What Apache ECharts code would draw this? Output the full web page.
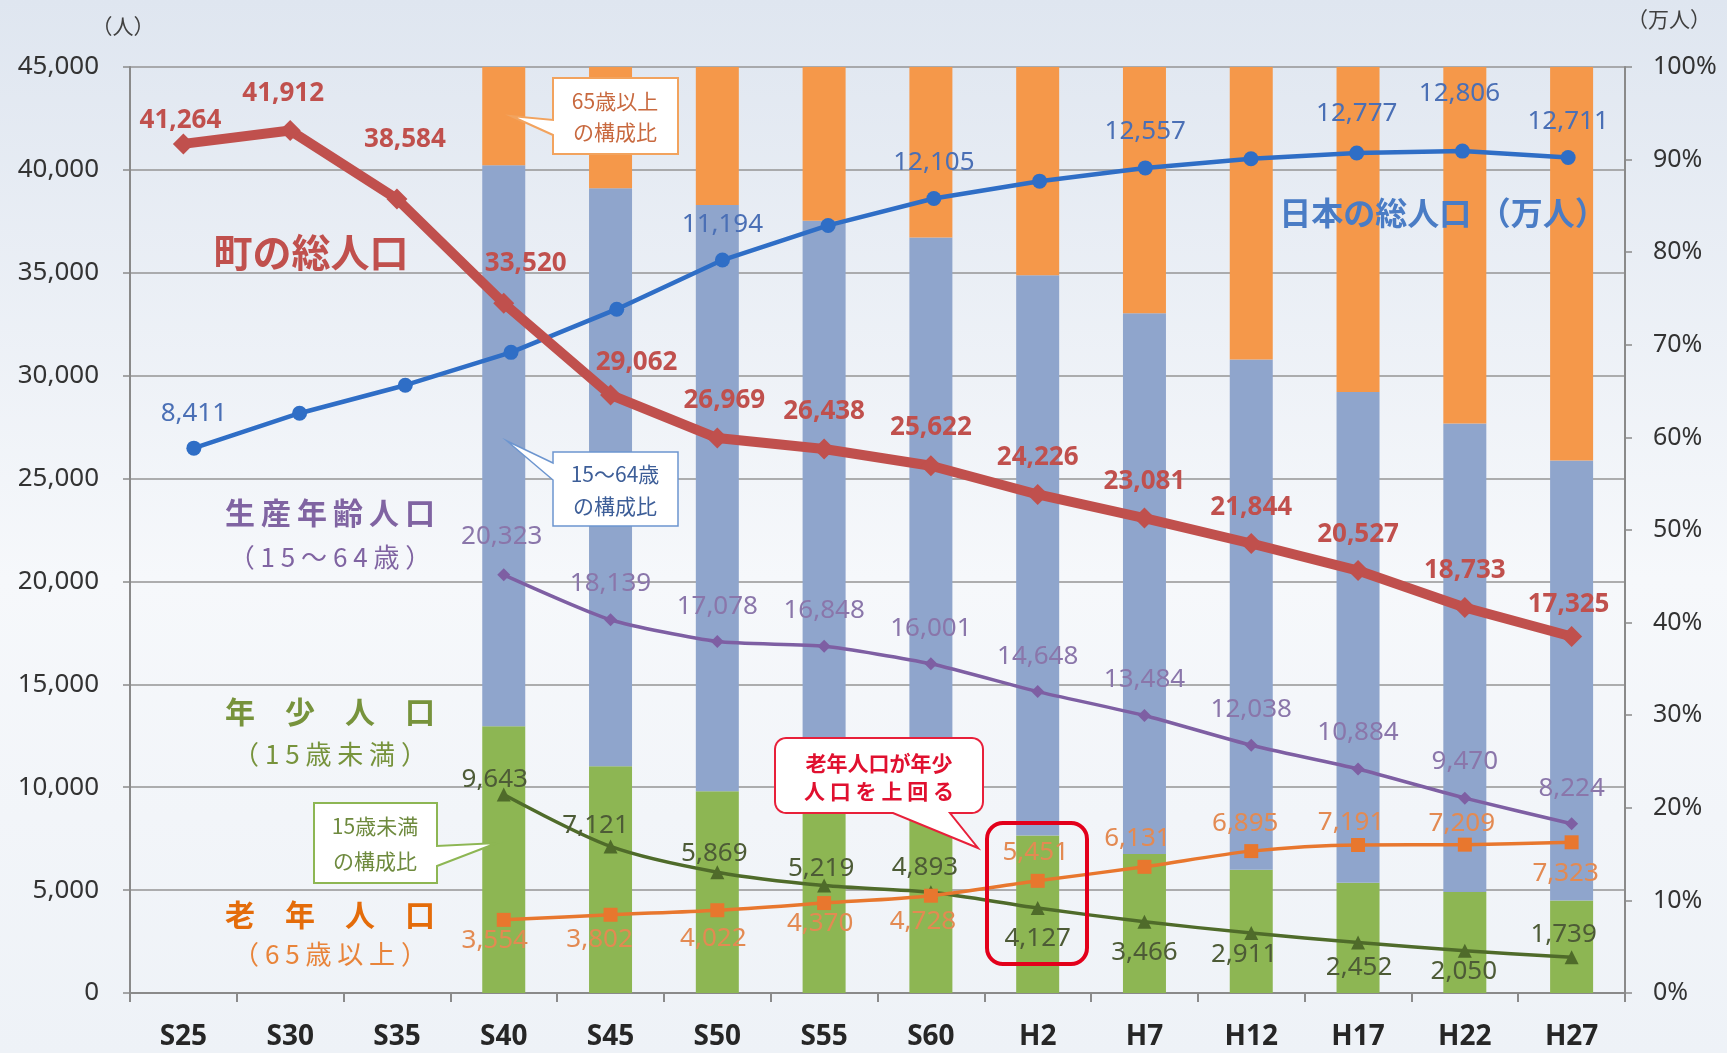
<!DOCTYPE html>
<html>
<head>
<meta charset="utf-8">
<script src="https://cdn.jsdelivr.net/npm/echarts@6/dist/echarts.min.js"></script>
<style>
html,body{margin:0;padding:0;background:#fff;}
#chart{width:1727px;height:1053px;}
</style>
</head>
<body>
<div id="chart"></div>
<script>
// ---- data ----
const categories = ['S25','S30','S35','S40','S45','S50','S55','S60','H2','H7','H12','H17','H22','H27'];
const townTotal = [41264,41912,38584,33520,29062,26969,26438,25622,24226,23081,21844,20527,18733,17325];
const japanTotal = [8411,8928,9342,9828,10467,11194,11706,12105,12361,12557,12693,12777,12806,12711];
const japanLabeled = [true,false,false,false,false,true,false,true,false,true,false,true,true,true];
const workingPop = [null,null,null,20323,18139,17078,16848,16001,14648,13484,12038,10884,9470,8224];
const youngPop = [null,null,null,9643,7121,5869,5219,4893,4127,3466,2911,2452,2050,1739];
const oldPop = [null,null,null,3554,3802,4022,4370,4728,5451,6131,6895,7191,7209,7323];
const shareYoung = [null,null,null,28.8,24.5,21.8,19.7,19.1,17.0,15.0,13.3,11.9,10.9,10.0];
const shareWorking = [null,null,null,60.6,62.4,63.3,63.7,62.5,60.5,58.4,55.1,53.0,50.6,47.5];
const shareOld = [null,null,null,10.6,13.1,14.9,16.6,18.4,22.5,26.6,31.6,35.1,38.5,42.5];

// ---- label layout (offsets of label centre from point, px) ----
const offTown = [[-3,-23],[-7,-37],[8,-59],[22,-40],[26,-32],[7,-37],[0,-37],[0,-38],[0,-37],[0,-36],[0,-36],[0,-36],[0,-37],[-3,-32]];
const offJapan = [[0,-35],[0,-36],[0,-36],[0,-36],[0,-36],[0,-35],[0,-36],[0,-36],[0,-36],[0,-36],[0,-36],[0,-39],[-3,-57],[0,-36]];
const offWorking = [null,null,null,[-2,-38],[0,-36],[0,-35],[0,-36],[0,-35],[0,-35],[0,-36],[0,-36],[0,-36],[0,-37],[0,-35]];
const offYoung = [null,null,null,[-9,-15],[-15,-21],[-3,-19],[-3,-17],[-6,-25],[0,31],[0,31],[-7,21],[1,25],[-1,21],[-8,-23]];
const offOld = [null,null,null,[-9,21],[-11,25],[-4,28],[-4,21],[-8,26],[-2,-28],[-7,-28],[-6,-28],[-7,-22],[-3,-21],[-6,31]];

const NUM_FONT = '"Noto Sans", "Noto Sans CJK JP", sans-serif';
const JP_FONT = '"Noto Sans CJK JP", "Noto Sans", sans-serif';
const fmt = v => Number(v).toLocaleString('en-US');

function items(values, offsets, shown) {
  return values.map((v, i) => {
    if (v == null) return null;
    const it = { value: v, label: { offset: offsets[i] || [0, 0] } };
    if (shown && !shown[i]) it.label.show = false;
    return it;
  });
}
function lineLabel(color, bold) {
  return {
    show: true, position: 'inside', align: 'center', verticalAlign: 'middle',
    color: color, fontSize: 26, fontWeight: bold ? 'bold' : 'normal', fontFamily: NUM_FONT,
    formatter: p => fmt(p.value)
  };
}

// rounded callout with pointer on the bottom edge
function roundedCallout(x1, y1, x2, y2, r, p1, p2, tip) {
  const pts = [];
  const arc = (cx, cy, a0, a1) => {
    for (let k = 0; k <= 6; k++) {
      const a = (a0 + (a1 - a0) * k / 6) * Math.PI / 180;
      pts.push([cx + r * Math.cos(a), cy + r * Math.sin(a)]);
    }
  };
  arc(x1 + r, y1 + r, 180, 270);
  arc(x2 - r, y1 + r, 270, 360);
  arc(x2 - r, y2 - r, 0, 90);
  pts.push([p2, y2], tip, [p1, y2]);
  arc(x1 + r, y2 - r, 90, 180);
  return pts;
}

function txt(x, y, text, fill, size, weight, font) {
  return { type: 'text', x: x, y: y, z: 120,
    style: { text: text, fill: fill, fontSize: size, fontWeight: weight || 'normal',
      fontFamily: font || JP_FONT, align: 'center', verticalAlign: 'middle',
      textAlign: 'center', textVerticalAlign: 'middle' } };
}

const chart = echarts.init(document.getElementById('chart'), null, { renderer: 'canvas' });

const option = {
  animation: false,
  backgroundColor: { type: 'linear', x: 0, y: 0, x2: 0, y2: 1,
    colorStops: [{ offset: 0, color: '#DFE6F0' }, { offset: 0.55, color: '#F6F8FB' }, { offset: 1, color: '#EEF2F7' }] },
  grid: [
    { left: 130, right: 102, top: 67, bottom: 60, outerBoundsMode: 'none', containLabel: false },
    { left: 141, right: 106, top: 67, bottom: 60, outerBoundsMode: 'none', containLabel: false }
  ],
  xAxis: [
    { type: 'category', gridIndex: 0, data: categories,
      axisLine: { lineStyle: { color: '#8a8a8a', width: 2 } },
      axisTick: { show: true, length: 9, lineStyle: { color: '#8a8a8a', width: 2 } },
      axisLabel: { color: '#262626', fontSize: 28, fontWeight: 'bold', fontFamily: NUM_FONT, margin: 30 } },
    { type: 'category', gridIndex: 1, data: categories, show: false }
  ],
  yAxis: [
    { type: 'value', gridIndex: 0, min: 0, max: 45000, interval: 5000, position: 'left',
      axisLine: { show: true, lineStyle: { color: '#8a8a8a', width: 2 } },
      axisTick: { show: true, length: 7, lineStyle: { color: '#8a8a8a', width: 1.5 } },
      splitLine: { show: true, lineStyle: { color: '#949494', width: 1.5 } },
      axisLabel: { color: '#333', fontSize: 26, fontFamily: NUM_FONT, margin: 31, formatter: v => fmt(v) } },
    { type: 'value', gridIndex: 0, min: 0, max: 100, interval: 10, position: 'right',
      axisLine: { show: true, lineStyle: { color: '#8a8a8a', width: 2 } },
      axisTick: { show: true, length: 7, lineStyle: { color: '#8a8a8a', width: 1.5 } },
      splitLine: { show: false },
      axisLabel: { color: '#333', fontSize: 25, fontFamily: NUM_FONT, margin: 28, formatter: '{value}%' } },
    { type: 'value', gridIndex: 1, min: 350, max: 14050, show: false, splitLine: { show: false } }
  ],
  series: [
    { name: '15歳未満の構成比', type: 'bar', xAxisIndex: 0, yAxisIndex: 1, stack: 'share', barWidth: 43,
      data: shareYoung, itemStyle: { color: '#8DB653' }, z: 2 },
    { name: '15～64歳の構成比', type: 'bar', xAxisIndex: 0, yAxisIndex: 1, stack: 'share', barWidth: 43,
      data: shareWorking, itemStyle: { color: '#8FA5CC' }, z: 2 },
    { name: '65歳以上の構成比', type: 'bar', xAxisIndex: 0, yAxisIndex: 1, stack: 'share', barWidth: 43,
      data: shareOld, itemStyle: { color: '#F5984A' }, z: 2 },
    { name: '日本の総人口（万人）', type: 'line', xAxisIndex: 1, yAxisIndex: 2,
      data: items(japanTotal, offJapan, japanLabeled),
      symbol: 'circle', symbolSize: 15, lineStyle: { color: '#2F6EC6', width: 4.5 },
      itemStyle: { color: '#2F6EC6' }, label: lineLabel('#4A6FB5', false), z: 5 },
    { name: '生産年齢人口', type: 'line', xAxisIndex: 0, yAxisIndex: 0,
      data: items(workingPop, offWorking), smooth: 0.2,
      symbol: 'diamond', symbolSize: 13, lineStyle: { color: '#7E5FA3', width: 3.5 },
      itemStyle: { color: '#7E5FA3' }, label: lineLabel('#8A76AA', false), z: 6 },
    { name: '年少人口', type: 'line', xAxisIndex: 0, yAxisIndex: 0,
      data: items(youngPop, offYoung), smooth: 0.3,
      symbol: 'triangle', symbolSize: 14, lineStyle: { color: '#4F6B2A', width: 3.5 },
      itemStyle: { color: '#4F6B2A' }, label: lineLabel('#4D5B36', false), z: 6 },
    { name: '老年人口', type: 'line', xAxisIndex: 0, yAxisIndex: 0,
      data: items(oldPop, offOld), smooth: 0.3,
      symbol: 'rect', symbolSize: 14, lineStyle: { color: '#E8772E', width: 3.5 },
      itemStyle: { color: '#E8772E' }, label: lineLabel('#E38A52', false), z: 6 },
    { name: '町の総人口', type: 'line', xAxisIndex: 0, yAxisIndex: 0,
      data: items(townTotal, offTown),
      symbol: 'diamond', symbolSize: 21, lineStyle: { color: '#C0504D', width: 10 },
      itemStyle: { color: '#C0504D' }, label: lineLabel('#C0504D', true), z: 7 }
  ],
  graphic: [
    txt(123, 26, '（人）', '#404040', 21),
    txt(1669, 19, '（万人）', '#404040', 21),
    txt(311, 252, '町の総人口', '#C0504D', 39, 'bold'),
    txt(1443, 213, '日本の総人口 （万人）', '#4A7CC5', 32, 'bold'),
    txt(330, 513, '生\u2009産\u2009年\u2009齢\u2009人\u2009口', '#8064A2', 30, 'bold'),
    txt(330, 557, '（ 1 5 ～ 6 4 歳 ）', '#8064A2', 26),
    txt(330, 712, '年\u3000少\u3000人\u3000口', '#77933C', 30, 'bold'),
    txt(330, 754, '（ 1 5 歳 未 満 ）', '#77933C', 26),
    txt(330, 915, '老\u3000年\u3000人\u3000口', '#E46C0A', 30, 'bold'),
    txt(330, 954, '（ 6 5 歳 以 上 ）', '#E8843A', 26),
    // callout: 65歳以上の構成比
    { type: 'polygon', z: 110, shape: { points: [[553,78],[678,78],[678,154],[553,154],[553,135],[511,116],[553,120]] },
      style: { fill: '#FFFFFF', stroke: '#F2A35E', lineWidth: 2 } },
    txt(615, 101, '65歳以上', '#C8693F', 21),
    txt(615, 132, 'の構成比', '#C8693F', 21),
    // callout: 15～64歳の構成比
    { type: 'polygon', z: 110, shape: { points: [[553,452],[678,452],[678,526],[553,526],[553,480],[507,441],[553,463]] },
      style: { fill: '#FFFFFF', stroke: '#6C95CF', lineWidth: 1.5 } },
    txt(615, 474, '15～64歳', '#3D5E98', 21),
    txt(615, 506, 'の構成比', '#3D5E98', 21),
    // callout: 15歳未満の構成比
    { type: 'polygon', z: 110, shape: { points: [[314,803],[437,803],[437,846],[497,843],[437,866],[437,883],[314,883]] },
      style: { fill: '#FFFFFF', stroke: '#8DB653', lineWidth: 2 } },
    txt(375, 826, '15歳未満', '#6E8A3E', 21),
    txt(375, 861, 'の構成比', '#6E8A3E', 21),
    // callout: 老年人口が年少人口を上回る
    { type: 'polygon', z: 110, shape: { points: roundedCallout(775, 738, 983, 813, 11, 893, 950, [978, 848]) },
      style: { fill: '#FFFFFF', stroke: '#E8203A', lineWidth: 2 } },
    txt(879, 763, '老年人口が年少', '#E0102F', 21, 'bold'),
    txt(879, 791, '人 口 を 上 回 る', '#E0102F', 21, 'bold'),
    // highlight box around H2
    { type: 'rect', z: 115, shape: { x: 987, y: 823, width: 100, height: 141, r: 16 },
      style: { fill: 'transparent', stroke: '#E3001B', lineWidth: 4 } }
  ]
};
chart.setOption(option);
</script>
</body>
</html>
